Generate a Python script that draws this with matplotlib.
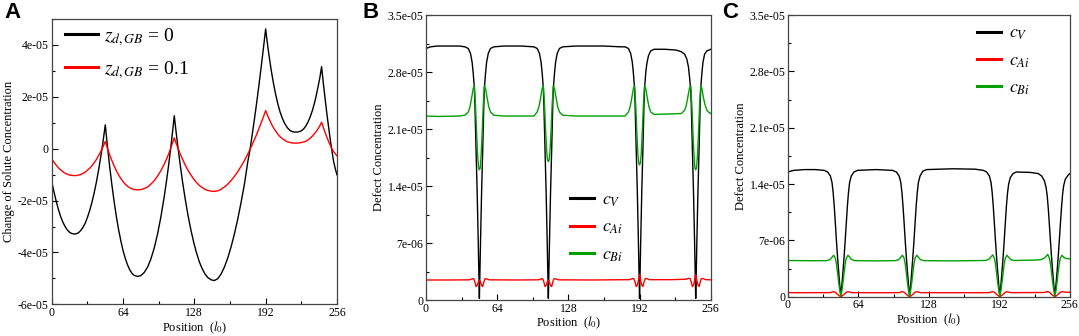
import matplotlib
matplotlib.use("Agg")
import matplotlib.pyplot as plt
from matplotlib.ticker import MultipleLocator, FuncFormatter

plt.rcParams['font.family'] = ['Liberation Serif', 'DejaVu Serif']
plt.rcParams['mathtext.fontset'] = 'stix'

# ---- panel A: change of solute concentration (units of 1e-5)
a_pos = [0, 2, 4, 6, 8, 10, 12, 14, 16, 18, 20.3, 22, 24, 26, 28, 30, 32, 34, 36, 38, 40, 42, 44, 46, 48.1,
         50, 52, 54, 56, 58, 60, 62, 64, 66, 68, 70, 72, 74, 77, 80, 83, 86, 89, 92, 95, 98, 101, 103, 105, 107,
         108.5, 110,
         111.5, 113, 115, 117.5, 120, 122.5, 125, 127.5, 130, 132.5, 135, 137.5, 140, 143, 145.9, 149, 152, 155,
         158, 161, 164, 167, 170, 173, 176, 178, 180, 182, 184, 186, 188, 190, 192,
         193, 194, 195.5, 197, 199, 201, 203, 205, 207, 209, 211.5, 214, 216.5, 219.1, 221.5, 224, 226, 228, 230,
         232, 234, 236, 237.5, 239, 240.7, 242.2,
         243, 244, 245.5, 247, 248.5, 250, 251.5, 253, 254.5, 256]
a_z0 = [-1.27, -1.65, -2.02, -2.34, -2.61, -2.83, -3.00, -3.13, -3.22, -3.27, -3.29, -3.28, -3.24, -3.16, -3.04,
        -2.88, -2.66, -2.40, -2.09, -1.73, -1.32, -0.85, -0.33, 0.24, 0.91,
        0.10, -0.68, -1.39, -2.03, -2.61, -3.11, -3.54, -3.92, -4.22, -4.47, -4.66, -4.80, -4.88, -4.92, -4.89,
        -4.77, -4.57, -4.25, -3.83, -3.29, -2.63, -1.85, -1.26, -0.62, 0.09, 0.66, 1.26,
        0.69, 0.15, -0.52, -1.30, -1.99, -2.61, -3.15, -3.62, -4.02, -4.36, -4.62, -4.82, -4.96, -5.05, -5.08,
        -5.01, -4.83, -4.56, -4.21, -3.78, -3.28, -2.71, -2.06, -1.36, -0.50, -0.04, 0.55, 1.15, 1.78, 2.45,
        3.14, 3.86, 4.60,
        4.24, 3.90, 3.44, 3.01, 2.51, 2.08, 1.71, 1.40, 1.16, 0.97, 0.80, 0.69, 0.64, 0.63, 0.64, 0.68, 0.75,
        0.86, 1.02, 1.22, 1.47, 1.78, 2.06, 2.37, 2.74, 3.15,
        2.82, 2.42, 1.86, 1.32, 0.82, 0.34, -0.10, -0.50, -0.78, -1.01]
a_z01 = [-0.41, -0.52, -0.64, -0.74, -0.82, -0.89, -0.95, -0.99, -1.02, -1.035, -1.04, -1.04, -1.025, -1.00,
         -0.96, -0.91, -0.84, -0.76, -0.67, -0.55, -0.43, -0.28, -0.12, 0.06, 0.27,
         0.01, -0.24, -0.46, -0.67, -0.85, -1.01, -1.15, -1.27, -1.37, -1.45, -1.51, -1.55, -1.58, -1.59, -1.58,
         -1.54, -1.48, -1.37, -1.24, -1.06, -0.85, -0.60, -0.41, -0.20, 0.03, 0.22, 0.41,
         0.22, 0.05, -0.17, -0.42, -0.65, -0.85, -1.02, -1.18, -1.31, -1.42, -1.50, -1.57, -1.61, -1.64, -1.65,
         -1.63, -1.57, -1.48, -1.37, -1.23, -1.07, -0.89, -0.68, -0.46, -0.21, -0.03, 0.16, 0.35, 0.55, 0.77,
         0.99, 1.22, 1.46,
         1.35, 1.24, 1.10, 0.96, 0.80, 0.67, 0.55, 0.45, 0.38, 0.32, 0.26, 0.23, 0.21, 0.21, 0.21, 0.23, 0.25,
         0.28, 0.33, 0.40, 0.48, 0.58, 0.66, 0.76, 0.88, 1.01,
         0.91, 0.78, 0.60, 0.43, 0.27, 0.12, -0.02, -0.12, -0.20, -0.28]

# ---- panel B: defect concentration (units of 1e-6), (position, value)
b_cv = [(0, 30.9), (4, 31.1), (10, 31.2), (20, 31.2), (30, 31.2), (35, 31.1), (38, 30.9), (40, 30.3),
        (41.5, 29.2), (42.5, 27.8), (43.5, 26.0), (44, 24.0), (45, 18.5), (46, 13.3), (47, 7.0), (47.5, 3.5),
        (48, 0.2), (48.5, 3.5), (49, 7.0), (50, 13.3), (51, 18.5), (52, 24.0), (52.5, 26.0), (53.5, 27.8),
        (54.5, 29.2), (56, 30.3), (58, 30.9), (61, 31.1), (70, 31.2), (85, 31.2), (97, 31.1), (100, 30.9),
        (102, 30.3), (103.5, 29.2), (104.5, 27.8), (105.5, 26.0), (106, 24.0), (107, 18.5), (108, 13.3),
        (109, 7.0), (109.5, 3.5), (110, 0.2), (110.5, 3.5), (111, 7.0), (112, 13.3), (113, 18.5), (114, 24.0),
        (114.5, 26.0), (115.5, 27.8), (116.5, 29.2), (118, 30.3), (120, 30.9), (123, 31.1), (135, 31.2),
        (160, 31.2), (175, 31.1), (179, 31.1), (182, 30.9), (184, 30.3), (185.5, 29.2), (186.5, 27.8),
        (187.5, 26.0), (188, 24.0), (189, 18.5), (190, 13.3), (191, 7.0), (191.5, 3.5), (192, 0.2),
        (192.5, 3.5), (193, 7.0), (194, 13.3), (195, 18.5), (196, 24.0), (196.5, 26.0), (197.5, 27.8),
        (198.5, 29.0), (200, 30.0), (202, 30.6), (205, 30.8), (215, 30.8), (225, 30.7), (229.5, 30.5),
        (232.5, 30.2), (234.5, 29.6), (236, 28.6), (237, 27.3), (238, 25.8), (238.5, 24.0), (239.5, 18.5),
        (240.5, 13.3), (241.5, 7.0), (242, 3.5), (242.5, 0.2), (243, 3.5), (243.5, 7.0), (244.5, 13.3),
        (245.5, 18.5), (246.5, 24.0), (247, 26.0), (248, 27.8), (249, 29.2), (250.5, 30.2), (252.5, 30.6),
        (256, 30.8)]
b_cai = [(0, 2.46), (20, 2.46), (39, 2.48), (42, 2.62), (43, 2.6), (44, 2.2), (45, 1.65), (46, 1.8),
         (47, 2.2), (47.6, 2.4), (48, 2.46), (48.4, 2.4), (49, 2.2), (50, 1.8), (51, 1.65), (52, 2.2),
         (53, 2.6), (54, 2.62), (57, 2.48), (80, 2.46), (101, 2.48), (104, 2.62), (105, 2.6), (106, 2.2),
         (107, 1.65), (108, 1.8), (109, 2.2), (109.6, 2.4), (110, 2.46), (110.4, 2.4), (111, 2.2), (112, 1.8),
         (113, 1.65), (114, 2.2), (115, 2.6), (116, 2.62), (119, 2.48), (150, 2.46), (183, 2.5), (186, 2.65),
         (187, 2.6), (188, 2.2), (189, 1.65), (190, 1.85), (191, 2.4), (191.5, 2.9), (192, 3.1), (192.5, 2.9),
         (193, 2.4), (194, 1.85), (195, 1.65), (196, 2.2), (197, 2.6), (198, 2.65), (201, 2.5), (220, 2.5),
         (233.5, 2.55), (236.5, 2.68), (237.5, 2.62), (238.5, 2.2), (239.5, 1.65), (240.5, 1.85), (241.5, 2.4),
         (242, 2.9), (242.5, 3.1), (243, 2.9), (243.5, 2.4), (244.5, 1.85), (245.5, 1.65), (246.5, 2.2),
         (247.5, 2.6), (248.5, 2.65), (251.5, 2.5), (256, 2.48)]
b_cbi = [(0, 22.6), (10, 22.55), (30, 22.6), (35, 22.7), (38, 23.1), (39.5, 23.7), (41, 24.8), (42.5, 26.0),
         (43.5, 26.3), (44.5, 24.0), (45.5, 20.5), (46.5, 17.6), (47.3, 16.2), (48, 16.0), (48.7, 16.2),
         (49.5, 17.6), (50.5, 20.5), (51.5, 24.0), (52.5, 26.3), (53.5, 26.0), (55, 24.8), (56.5, 23.7),
         (58, 23.1), (61, 22.7), (70, 22.6), (97, 22.6), (100, 23.1), (101.5, 23.7), (103, 24.8), (104.5, 26.0),
         (105.5, 26.3), (106.5, 24.2), (107.5, 21.0), (108.5, 18.3), (109.3, 17.2), (110, 17.0), (110.7, 17.2),
         (111.5, 18.3), (112.5, 21.0), (113.5, 24.2), (114.5, 26.3), (115.5, 26.0), (117, 24.8), (118.5, 23.7),
         (120, 23.1), (123, 22.7), (135, 22.6), (179, 22.6), (182, 23.1), (183.5, 23.7), (185, 24.8),
         (186.5, 26.0), (187.5, 26.3), (188.5, 24.1), (189.5, 20.8), (190.5, 17.9), (191.3, 16.8), (192, 16.6),
         (192.7, 16.8), (193.5, 17.9), (194.5, 20.8), (195.5, 24.1), (196.5, 26.3), (197.5, 26.0), (199, 24.8),
         (200.5, 23.7), (202, 23.1), (205, 22.8), (229.5, 22.9), (232.5, 23.3), (234, 23.9), (235.5, 25.0),
         (237, 26.1), (238, 26.3), (239, 24.0), (240, 20.5), (241, 17.6), (241.8, 16.2), (242.5, 16.0),
         (243.2, 16.2), (244, 17.6), (245, 20.5), (246, 24.0), (247, 26.3), (248, 26.0), (249.5, 24.8),
         (251, 23.9), (253, 23.2), (256, 22.9)]

# ---- panel C: defect concentration (units of 1e-6), (position, value)
c_cv = [(0, 15.5), (5, 15.7), (15, 15.8), (25, 15.8), (33, 15.7), (36, 15.5), (38.5, 15.0), (40, 14.2),
        (41, 13.0), (42, 11.3), (43, 9.2), (44, 7.0), (45, 5.0), (46, 3.2), (47, 1.5), (48, 0.1), (49, 1.5),
        (50, 3.2), (51, 5.0), (52, 7.0), (53, 9.2), (54, 11.3), (55, 13.0), (56, 14.2), (57.5, 15.0),
        (60, 15.5), (63, 15.7), (80, 15.8), (95, 15.7), (98.5, 15.5), (101, 15.0), (102.5, 14.2), (103.5, 13.0),
        (104.5, 11.3), (105.5, 9.2), (106.5, 7.0), (107.5, 5.0), (108.5, 3.2), (109.5, 1.5), (110.5, 0.1),
        (111.5, 1.5), (112.5, 3.2), (113.5, 5.0), (114.5, 7.0), (115.5, 9.2), (116.5, 11.3), (117.5, 13.0),
        (118.5, 14.2), (120, 15.0), (122.5, 15.6), (126, 15.8), (150, 15.9), (170, 15.85), (177.5, 15.7),
        (180.5, 15.5), (183, 15.0), (184.5, 14.2), (185.5, 13.0), (186.5, 11.3), (187.5, 9.2), (188.5, 7.0),
        (189.5, 5.0), (190.5, 3.2), (191.5, 1.5), (192.5, 0.1), (193.5, 1.5), (194.5, 3.2), (195.5, 5.0),
        (196.5, 7.0), (197.5, 9.2), (198.5, 11.3), (199.5, 12.9), (200.5, 14.0), (202, 14.8), (204.5, 15.3),
        (207.5, 15.5), (220, 15.45), (227.5, 15.3), (230.5, 15.0), (233, 14.4), (234.5, 13.6), (235.5, 12.6),
        (236.5, 11.0), (237.5, 9.0), (238.5, 6.9), (239.5, 4.9), (240.5, 3.1), (241.5, 1.5), (242.5, 0.1),
        (243.5, 1.5), (244.5, 3.1), (245.5, 4.9), (246.5, 6.9), (247.5, 9.0), (248.5, 11.0), (249.5, 12.7),
        (250.5, 13.8), (252, 14.6), (254.5, 15.1), (256, 15.3)]
c_cai = [(0, 0.5), (38, 0.5), (41.5, 0.62), (43, 0.55), (45, 0.3), (46.5, 0.12), (48, 0.02), (49.5, 0.12),
         (51, 0.3), (53, 0.55), (54.5, 0.62), (58, 0.5), (100.5, 0.5), (104, 0.62), (105.5, 0.55), (107.5, 0.3),
         (109, 0.12), (110.5, 0.02), (112, 0.12), (113.5, 0.3), (115.5, 0.55), (117, 0.62), (120.5, 0.5),
         (182.5, 0.5), (186, 0.62), (187.5, 0.55), (189.5, 0.3), (191, 0.12), (192.5, 0.02), (194, 0.12),
         (195.5, 0.3), (197.5, 0.55), (199, 0.62), (202.5, 0.5), (232.5, 0.52), (236, 0.64), (237.5, 0.55),
         (239.5, 0.3), (241, 0.12), (242.5, 0.02), (244, 0.12), (245.5, 0.3), (247.5, 0.55), (249, 0.62),
         (252.5, 0.55), (256, 0.55)]
c_cbi = [(0, 4.5), (20, 4.47), (35, 4.48), (38, 4.6), (40, 4.9), (41.5, 5.15), (43, 4.8), (44, 4.1), (45, 3.0),
         (46, 1.8), (47, 0.8), (48, 0.05), (49, 0.8), (50, 1.8), (51, 3.0), (52, 4.1), (53, 4.8), (54.5, 5.15),
         (56, 4.9), (58, 4.6), (61, 4.48), (80, 4.45), (97.5, 4.48), (100.5, 4.6), (102.5, 4.9), (104, 5.15),
         (105.5, 4.8), (106.5, 4.1), (107.5, 3.0), (108.5, 1.8), (109.5, 0.8), (110.5, 0.05), (111.5, 0.8),
         (112.5, 1.8), (113.5, 3.0), (114.5, 4.1), (115.5, 4.8), (117, 5.15), (118.5, 4.9), (120.5, 4.6),
         (123.5, 4.48), (150, 4.45), (179.5, 4.5), (182.5, 4.65), (184.5, 4.95), (186, 5.2), (187.5, 4.8),
         (188.5, 4.1), (189.5, 3.0), (190.5, 1.8), (191.5, 0.8), (192.5, 0.05), (193.5, 0.8), (194.5, 1.8),
         (195.5, 3.0), (196.5, 4.1), (197.5, 4.8), (199, 5.15), (200.5, 4.9), (202.5, 4.6), (205.5, 4.5),
         (225, 4.55), (229.5, 4.6), (232.5, 4.75), (234.5, 5.0), (236, 5.25), (237.5, 4.8), (238.5, 4.1),
         (239.5, 3.0), (240.5, 1.8), (241.5, 0.8), (242.5, 0.05), (243.5, 0.8), (244.5, 1.8), (245.5, 3.0),
         (246.5, 4.1), (247.5, 4.8), (249, 5.15), (250.5, 4.9), (252.5, 4.75), (256, 4.7)]

a_labels = [r'$z_{d,GB}$ = 0', r'$z_{d,GB}$ = 0.1']
defect_labels = [r'$c_V$', r'$c_{Ai}$', r'$c_{Bi}$']
x_ticks = [0, 64, 128, 192, 256]

GREEN = '#00a000'


def sci(v, pos):
    if abs(v) < 1e-12:
        return '0'
    return '%g' % v


def style_axes(ax, ymin, ymax, ymajor, yminor, ylabel):
    ax.set_xlim(0, 256)
    ax.set_ylim(ymin, ymax)
    ax.set_xticks(x_ticks)
    ax.xaxis.set_minor_locator(MultipleLocator(32))
    ax.yaxis.set_major_locator(MultipleLocator(ymajor))
    ax.yaxis.set_minor_locator(MultipleLocator(yminor))
    ax.yaxis.set_major_formatter(FuncFormatter(sci))
    ax.tick_params(which='both', direction='in', top=False, right=False, labelsize=8.5, pad=2)
    ax.tick_params(which='major', length=4, width=0.8)
    ax.tick_params(which='minor', length=2.5, width=0.8)
    for s in ax.spines.values():
        s.set_color('#444444')
        s.set_linewidth(0.9)
    ax.set_xlabel(r'Position  ($l_0$)', fontsize=9, labelpad=0)
    ax.set_ylabel(ylabel, fontsize=9, labelpad=2)


def thick_legend(leg):
    for ln in leg.get_lines():
        ln.set_linewidth(2.2)


fig = plt.figure(figsize=(10.79, 3.36), dpi=100)

# panel A
axA = fig.add_axes([0.0479, 0.0938, 0.2644, 0.851])
axA.plot(a_pos, [v * 1e-5 for v in a_z0], color='black', lw=1.0, label=a_labels[0])
axA.plot(a_pos, [v * 1e-5 for v in a_z01], color='red', lw=1.0, label=a_labels[1])
style_axes(axA, -6e-5, 5e-5, 2e-5, 1e-5, 'Change of Solute Concentration')
leg = axA.legend(loc='upper left', bbox_to_anchor=(0.047, 0.975), frameon=False, fontsize=14,
                 handlelength=1.7, handletextpad=0.3, labelspacing=0.6, borderpad=0, borderaxespad=0)
thick_legend(leg)

# panel B
axB = fig.add_axes([0.3948, 0.1071, 0.2639, 0.848])
for data, col, lab in [(b_cv, 'black', defect_labels[0]), (b_cai, 'red', defect_labels[1]),
                       (b_cbi, GREEN, defect_labels[2])]:
    xs, ys = zip(*data)
    axB.plot(xs, [v * 1e-6 for v in ys], color=col, lw=1.0, label=lab)
style_axes(axB, 0, 3.5e-5, 7e-6, 3.5e-6, 'Defect Concentration')
leg = axB.legend(loc='upper left', bbox_to_anchor=(0.506, 0.38), frameon=False, fontsize=13,
                 handlelength=1.3, handletextpad=0.45, labelspacing=0.55, borderpad=0, borderaxespad=0)
thick_legend(leg)

# panel C
axC = fig.add_axes([0.7303, 0.117, 0.2611, 0.838])
for data, col, lab in [(c_cv, 'black', defect_labels[0]), (c_cai, 'red', defect_labels[1]),
                       (c_cbi, GREEN, defect_labels[2])]:
    xs, ys = zip(*data)
    axC.plot(xs, [v * 1e-6 for v in ys], color=col, lw=1.0, label=lab)
style_axes(axC, 0, 3.5e-5, 7e-6, 3.5e-6, 'Defect Concentration')
leg = axC.legend(loc='upper left', bbox_to_anchor=(0.671, 0.965), frameon=False, fontsize=13,
                 handlelength=1.3, handletextpad=0.45, labelspacing=0.55, borderpad=0, borderaxespad=0)
thick_legend(leg)

for letter, xpos in [('A', 0.004), ('B', 0.336), ('C', 0.669)]:
    fig.text(xpos, 0.995, letter, fontsize=16, fontweight='bold', family='Liberation Sans',
             ha='left', va='top')

fig.savefig('out.png', dpi=100)
